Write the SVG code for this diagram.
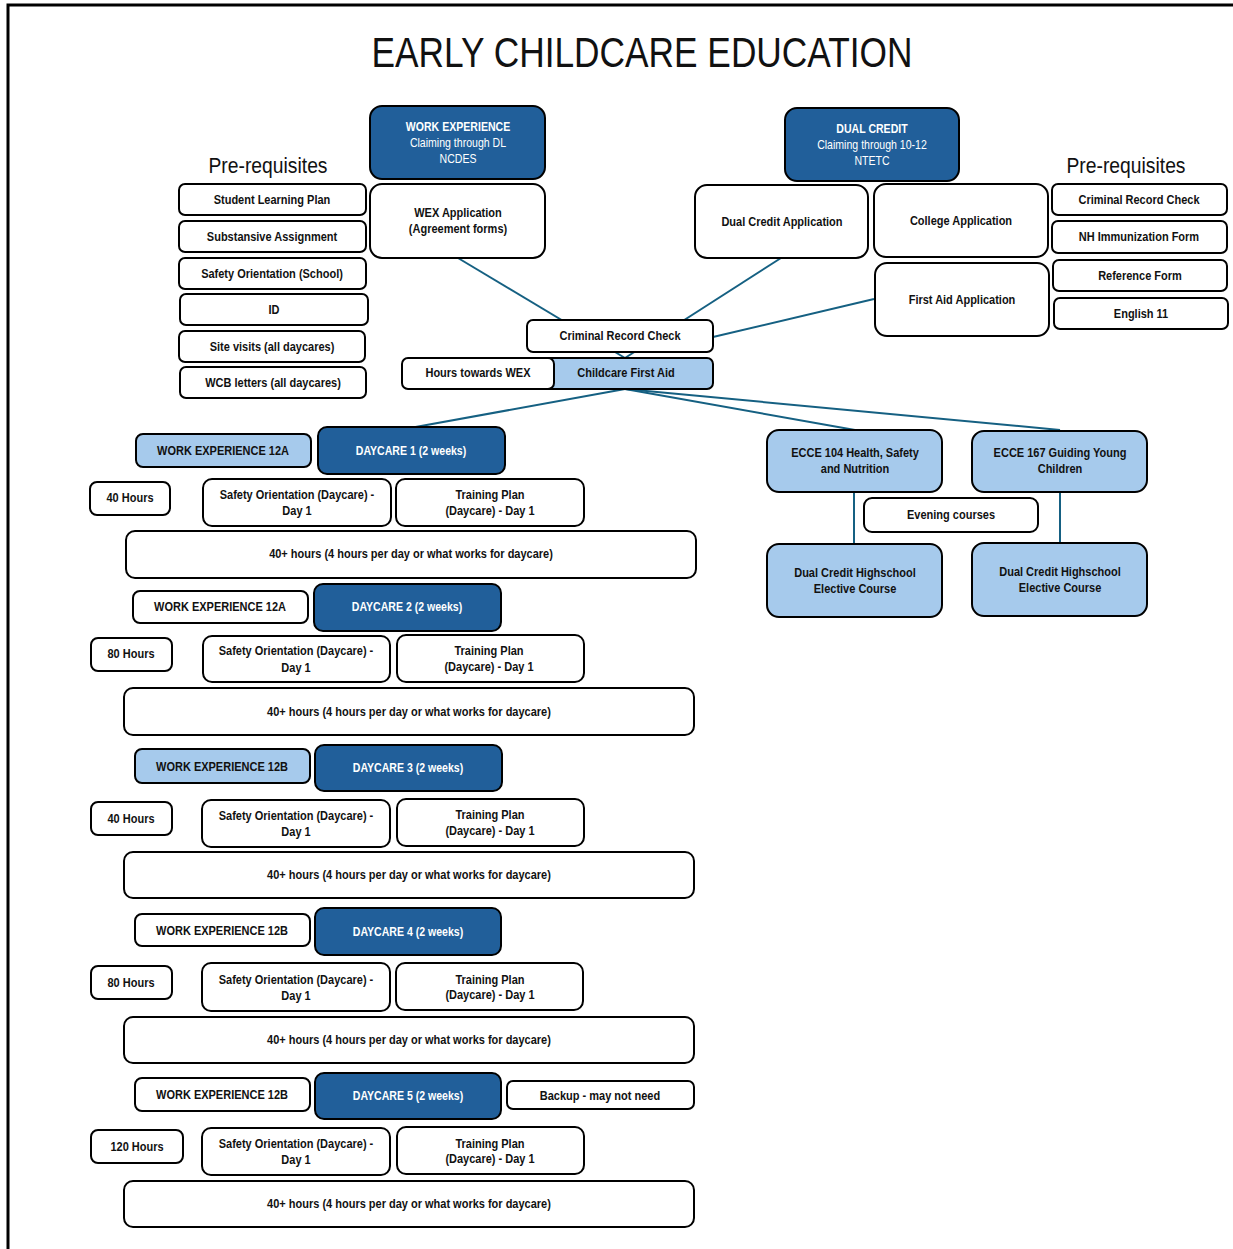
<svg xmlns="http://www.w3.org/2000/svg" width="1233" height="1249" viewBox="0 0 1233 1249">
<style>
.w{fill:#fff;stroke:#000;stroke-width:2}
.l{fill:#A6CAEC;stroke:#000;stroke-width:2}
.d{fill:#215F9A;stroke:#000;stroke-width:2}
text{font-family:"Liberation Sans Narrow","Liberation Sans",Arial,sans-serif;text-anchor:middle;fill:#111}
.t,.tw,.tn{transform-box:fill-box;transform-origin:center;transform:scaleX(0.88)}
.t{font-size:12.5px;font-weight:bold}
.tw{font-size:12px;font-weight:bold;fill:#fff}
.tn{font-size:12px;fill:#fff}
.h{font-size:22px}
.ti{font-size:42px}
.c{stroke:#156082;stroke-width:2;fill:none}
</style>
<rect width="1233" height="1249" fill="#fff"/>
<path d="M8,1249 V5 H1233" fill="none" stroke="#000" stroke-width="3"/>
<text class="ti" x="642" y="67" textLength="541" lengthAdjust="spacingAndGlyphs">EARLY CHILDCARE EDUCATION</text>
<text class="h" x="268" y="173" textLength="119" lengthAdjust="spacingAndGlyphs">Pre-requisites</text>
<text class="h" x="1126" y="173" textLength="119" lengthAdjust="spacingAndGlyphs">Pre-requisites</text>

<g id="connectors">
<path class="c" d="M458,258 L625,358"/>
<path class="c" d="M781,258 L625,358"/>
<path class="c" d="M874,299 L713,337"/>
<path class="c" d="M625,389 L410,428"/>
<path class="c" d="M625,389 L855,430"/>
<path class="c" d="M625,389 L1060,430"/>
<path class="c" d="M854,492 V544"/>
<path class="c" d="M1060,492 V543"/>
</g>

<g id="pre-left">
<g id="slp"><rect class="w" x="179" y="184" width="187" height="31" rx="6"/><text class="t" x="272" y="204">Student Learning Plan</text></g>
<g id="sa"><rect class="w" x="179" y="221" width="187" height="31" rx="6"/><text class="t" x="272" y="241">Substansive Assignment</text></g>
<g id="sos"><rect class="w" x="179" y="258" width="187" height="31" rx="6"/><text class="t" x="272" y="278">Safety Orientation (School)</text></g>
<g id="id"><rect class="w" x="180" y="294" width="188" height="31" rx="6"/><text class="t" x="274" y="314">ID</text></g>
<g id="sv"><rect class="w" x="179" y="331" width="186" height="31" rx="6"/><text class="t" x="272" y="351">Site visits (all daycares)</text></g>
<g id="wcb"><rect class="w" x="180" y="367" width="186" height="31" rx="6"/><text class="t" x="273" y="387">WCB letters (all daycares)</text></g>
</g>

<g id="work-experience"><rect class="d" x="370" y="106" width="175" height="73" rx="12"/><text class="tw" x="458" y="131">WORK EXPERIENCE</text><text class="tn" x="458" y="147">Claiming through DL</text><text class="tn" x="458" y="163">NCDES</text></g>
<g id="wex-app"><rect class="w" x="370" y="184" width="175" height="74" rx="12"/><text class="t" x="458" y="217">WEX Application</text><text class="t" x="458" y="233">(Agreement forms)</text></g>

<g id="dual-credit"><rect class="d" x="785" y="108" width="174" height="73" rx="12"/><text class="tw" x="872" y="133">DUAL CREDIT</text><text class="tn" x="872" y="149">Claiming through 10-12</text><text class="tn" x="872" y="165">NTETC</text></g>
<g id="dc-app"><rect class="w" x="695" y="185" width="173" height="73" rx="12"/><text class="t" x="782" y="226">Dual Credit Application</text></g>
<g id="college-app"><rect class="w" x="874" y="184" width="174" height="73" rx="12"/><text class="t" x="961" y="225">College Application</text></g>
<g id="firstaid-app"><rect class="w" x="875" y="263" width="174" height="73" rx="12"/><text class="t" x="962" y="304">First Aid Application</text></g>

<g id="pre-right">
<g id="crc2"><rect class="w" x="1052" y="184" width="175" height="31" rx="6"/><text class="t" x="1139" y="204">Criminal Record Check</text></g>
<g id="nh"><rect class="w" x="1052" y="221" width="175" height="32" rx="6"/><text class="t" x="1139" y="241">NH Immunization Form</text></g>
<g id="ref"><rect class="w" x="1053" y="260" width="174" height="31" rx="6"/><text class="t" x="1140" y="280">Reference Form</text></g>
<g id="eng"><rect class="w" x="1054" y="298" width="174" height="31" rx="6"/><text class="t" x="1141" y="318">English 11</text></g>
</g>

<g id="crc"><rect class="w" x="527" y="320" width="186" height="32" rx="6"/><text class="t" x="620" y="340">Criminal Record Check</text></g>
<g id="first-aid"><rect class="l" x="540" y="358" width="173" height="31" rx="6"/><text class="t" x="626" y="377">Childcare First Aid</text></g>
<g id="hours-wex"><rect class="w" x="402" y="358" width="152" height="31" rx="6"/><text class="t" x="478" y="377">Hours towards WEX</text></g>

<g id="ecce104"><rect class="l" x="767" y="430" width="175" height="62" rx="12"/><text class="t" x="855" y="457">ECCE 104 Health, Safety</text><text class="t" x="855" y="473">and Nutrition</text></g>
<g id="ecce167"><rect class="l" x="972" y="431" width="175" height="61" rx="12"/><text class="t" x="1060" y="457">ECCE 167 Guiding Young</text><text class="t" x="1060" y="473">Children</text></g>
<g id="evening"><rect class="w" x="864" y="498" width="174" height="34" rx="8"/><text class="t" x="951" y="519">Evening courses</text></g>
<g id="dch1"><rect class="l" x="767" y="544" width="175" height="73" rx="12"/><text class="t" x="855" y="577">Dual Credit Highschool</text><text class="t" x="855" y="593">Elective Course</text></g>
<g id="dch2"><rect class="l" x="972" y="543" width="175" height="73" rx="12"/><text class="t" x="1060" y="576">Dual Credit Highschool</text><text class="t" x="1060" y="592">Elective Course</text></g>

<g id="block1">
<g id="we1"><rect class="l" x="136" y="434" width="175" height="33" rx="7"/><text class="t" x="223" y="455">WORK EXPERIENCE 12A</text></g>
<g id="dc1"><rect class="d" x="318" y="427" width="187" height="47" rx="9"/><text class="tw" x="411" y="455">DAYCARE 1 (2 weeks)</text></g>
<g id="h1"><rect class="w" x="90" y="482" width="80" height="33" rx="7"/><text class="t" x="130" y="502">40 Hours</text></g>
<g id="so1"><rect class="w" x="203" y="479" width="188" height="47" rx="9"/><text class="t" x="297" y="499">Safety Orientation (Daycare) -</text><text class="t" x="297" y="515">Day 1</text></g>
<g id="tp1"><rect class="w" x="396" y="479" width="188" height="47" rx="9"/><text class="t" x="490" y="499">Training Plan</text><text class="t" x="490" y="515">(Daycare) - Day 1</text></g>
<g id="hr1"><rect class="w" x="126" y="531" width="570" height="47" rx="9"/><text class="t" x="411" y="558">40+ hours (4 hours per day or what works for daycare)</text></g>
</g>

<g id="block2">
<g id="we2"><rect class="w" x="133" y="591" width="175" height="32" rx="7"/><text class="t" x="220" y="611">WORK EXPERIENCE 12A</text></g>
<g id="dc2"><rect class="d" x="314" y="584" width="187" height="47" rx="9"/><text class="tw" x="407" y="611">DAYCARE 2 (2 weeks)</text></g>
<g id="h2"><rect class="w" x="91" y="638" width="81" height="33" rx="7"/><text class="t" x="131" y="658">80 Hours</text></g>
<g id="so2"><rect class="w" x="203" y="636" width="187" height="46" rx="9"/><text class="t" x="296" y="655">Safety Orientation (Daycare) -</text><text class="t" x="296" y="672">Day 1</text></g>
<g id="tp2"><rect class="w" x="397" y="635" width="187" height="47" rx="9"/><text class="t" x="489" y="655">Training Plan</text><text class="t" x="489" y="671">(Daycare) - Day 1</text></g>
<g id="hr2"><rect class="w" x="124" y="688" width="570" height="47" rx="9"/><text class="t" x="409" y="716">40+ hours (4 hours per day or what works for daycare)</text></g>
</g>

<g id="block3">
<g id="we3"><rect class="l" x="135" y="749" width="175" height="34" rx="7"/><text class="t" x="222" y="771">WORK EXPERIENCE 12B</text></g>
<g id="dc3"><rect class="d" x="315" y="745" width="187" height="46" rx="9"/><text class="tw" x="408" y="772">DAYCARE 3 (2 weeks)</text></g>
<g id="h3"><rect class="w" x="91" y="802" width="81" height="33" rx="7"/><text class="t" x="131" y="823">40 Hours</text></g>
<g id="so3"><rect class="w" x="202" y="800" width="188" height="47" rx="9"/><text class="t" x="296" y="820">Safety Orientation (Daycare) -</text><text class="t" x="296" y="836">Day 1</text></g>
<g id="tp3"><rect class="w" x="397" y="799" width="187" height="47" rx="9"/><text class="t" x="490" y="819">Training Plan</text><text class="t" x="490" y="835">(Daycare) - Day 1</text></g>
<g id="hr3"><rect class="w" x="124" y="852" width="570" height="46" rx="9"/><text class="t" x="409" y="879">40+ hours (4 hours per day or what works for daycare)</text></g>
</g>

<g id="block4">
<g id="we4"><rect class="w" x="135" y="914" width="175" height="32" rx="7"/><text class="t" x="222" y="935">WORK EXPERIENCE 12B</text></g>
<g id="dc4"><rect class="d" x="315" y="908" width="186" height="47" rx="9"/><text class="tw" x="408" y="936">DAYCARE 4 (2 weeks)</text></g>
<g id="h4"><rect class="w" x="91" y="966" width="81" height="33" rx="7"/><text class="t" x="131" y="987">80 Hours</text></g>
<g id="so4"><rect class="w" x="202" y="963" width="188" height="48" rx="9"/><text class="t" x="296" y="984">Safety Orientation (Daycare) -</text><text class="t" x="296" y="1000">Day 1</text></g>
<g id="tp4"><rect class="w" x="396" y="963" width="187" height="47" rx="9"/><text class="t" x="490" y="984">Training Plan</text><text class="t" x="490" y="999">(Daycare) - Day 1</text></g>
<g id="hr4"><rect class="w" x="124" y="1017" width="570" height="46" rx="9"/><text class="t" x="409" y="1044">40+ hours (4 hours per day or what works for daycare)</text></g>
</g>

<g id="block5">
<g id="we5"><rect class="w" x="135" y="1078" width="175" height="33" rx="7"/><text class="t" x="222" y="1099">WORK EXPERIENCE 12B</text></g>
<g id="dc5"><rect class="d" x="315" y="1073" width="186" height="46" rx="9"/><text class="tw" x="408" y="1100">DAYCARE 5 (2 weeks)</text></g>
<g id="backup"><rect class="w" x="507" y="1081" width="187" height="28" rx="6"/><text class="t" x="600" y="1100">Backup - may not need</text></g>
<g id="h5"><rect class="w" x="91" y="1130" width="92" height="33" rx="7"/><text class="t" x="137" y="1151">120 Hours</text></g>
<g id="so5"><rect class="w" x="202" y="1128" width="188" height="47" rx="9"/><text class="t" x="296" y="1148">Safety Orientation (Daycare) -</text><text class="t" x="296" y="1164">Day 1</text></g>
<g id="tp5"><rect class="w" x="397" y="1127" width="187" height="47" rx="9"/><text class="t" x="490" y="1148">Training Plan</text><text class="t" x="490" y="1163">(Daycare) - Day 1</text></g>
<g id="hr5"><rect class="w" x="124" y="1181" width="570" height="46" rx="9"/><text class="t" x="409" y="1208">40+ hours (4 hours per day or what works for daycare)</text></g>
</g>
</svg>
